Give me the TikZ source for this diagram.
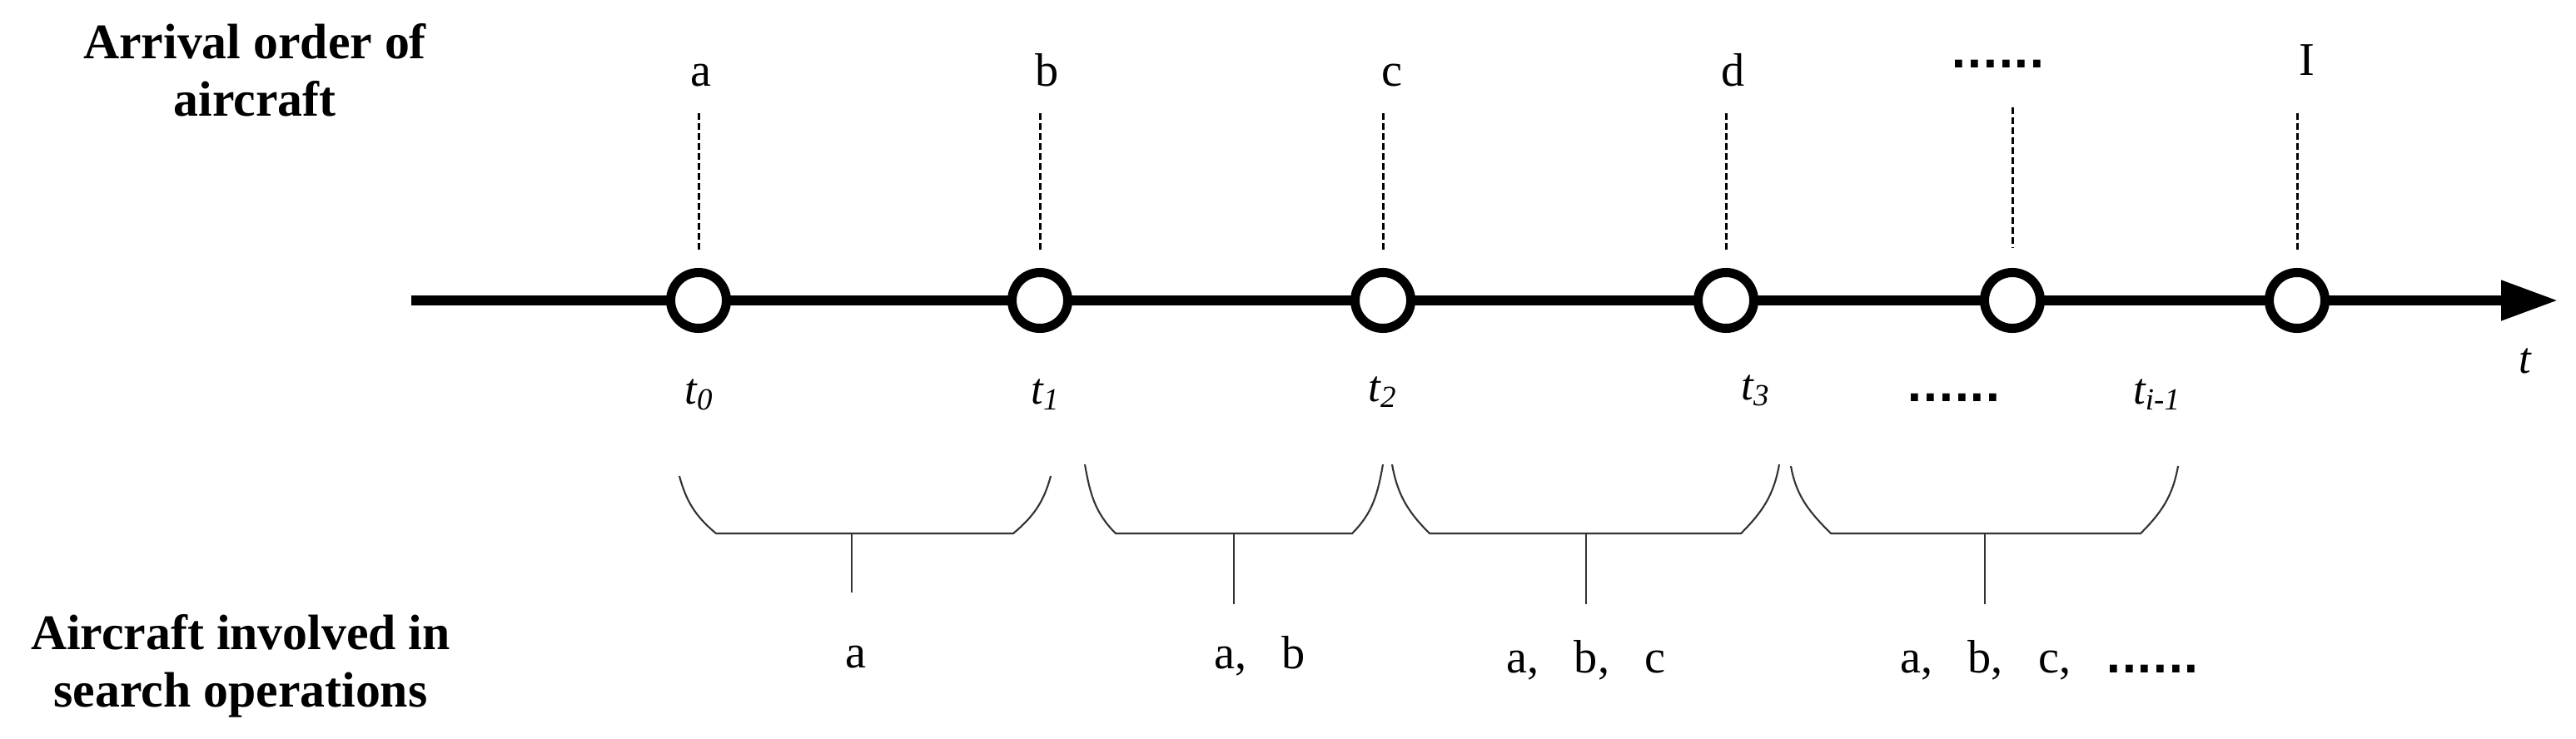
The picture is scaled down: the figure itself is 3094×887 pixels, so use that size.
\documentclass[tikz,border=0pt]{standalone}
\usepackage{fontspec}
\setmainfont{Liberation Serif}
\newfontfamily\dotsfont{DejaVu Sans}
\usetikzlibrary{arrows.meta,positioning}

\newcommand{\acsep}{,\hspace{0.75em}}
\newcommand{\acdots}{{\dotsfont\upshape\bfseries\fontsize{14}{17}\selectfont......}}

\tikzset{%
  % Specifications for style of nodes:
         ring/.style = {circle, draw=black, fill=white, line width=3.13pt, minimum size=0.67cm, inner sep=0pt},
       letter/.style = {inner sep=0pt, anchor=base, font=\fontsize{16}{19}\selectfont},
        stamp/.style = {inner sep=0pt, anchor=base, font=\fontsize{15}{18}\selectfont\itshape},
      heading/.style = {inner sep=0pt, align=center, font=\fontsize{17}{19.6}\selectfont\bfseries},
  % Specifications for style of lines:
         axis/.style = {line width=3.13pt, -{Triangle[length=0.68cm, width=0.46cm]}},
     dashline/.style = {line width=0.85pt, dash pattern=on 0.08cm off 0.04cm, shorten <=0.32cm, shorten >=0.19cm},
     spanline/.style = {line width=0.6pt, draw=black!80},
}

\begin{document}
\begin{tikzpicture}[x=0.01cm, y=0.01cm]
    \useasboundingbox (0,0) rectangle (3094,887);

    % Draw time axis
    \coordinate (tstart) at (494,526);
    \coordinate (tend)   at (3072,526);
    \draw[axis] (tstart) -- (tend);

    % Draw nodes
    \node (ca) [ring] at (839,526)  {};
    \node (cb) [ring] at (1249,526) {};
    \node (cc) [ring] at (1661,526) {};
    \node (cd) [ring] at (2073,526) {};
    \node (ce) [ring] at (2417,526) {};
    \node (cf) [ring] at (2759,526) {};

    \node (la) [letter] at (842,784)  {a};
    \node (lb) [letter] at (1258,784) {b};
    \node (lc) [letter] at (1672,784) {c};
    \node (ld) [letter] at (2082,784) {d};
    \node (le) [letter] at (2400,805) {\acdots};
    \node (lf) [letter] at (2771,796) {I};

    \node (t0)   [stamp] at (840,402)  {t\textsubscript{0}};
    \node (t1)   [stamp] at (1256,402) {t\textsubscript{1}};
    \node (t2)   [stamp] at (1661,405) {t\textsubscript{2}};
    \node (t3)   [stamp] at (2109,407) {t\textsubscript{3}};
    \node (tdot) [stamp] at (2347,405) {\acdots};
    \node (ti)   [stamp] at (2591,402) {t\textsubscript{i-1}};
    \node (tlab) [stamp] at (3033,439) {t};

    \node (arr) [heading, anchor=north] at (306,859) {Arrival order of\\aircraft};
    \node (inv) [heading, anchor=north] at (289,149) {Aircraft involved in\\search operations};

    \node (sa) [letter] at (1028,85) {a};
    \node (sb) [letter] at (1513,84) {a\acsep b};
    \node (sc) [letter] at (1905,79) {a\acsep b\acsep c};
    \node (sd) [letter] at (2462,79) {a\acsep b\acsep c\acsep\acdots};

    % Draw dashed lines
    \draw[dashline] (ca.north |- la.south) -- (ca.north);
    \draw[dashline] (cb.north |- lb.south) -- (cb.north);
    \draw[dashline] (cc.north |- lc.south) -- (cc.north);
    \draw[dashline] (cd.north |- ld.south) -- (cd.north);
    \draw[dashline, shorten <=0.46cm, shorten >=0.24cm] (ce.north |- le.south) -- (ce.north);
    \draw[dashline, shorten <=0.44cm] (cf.north |- lf.south) -- (cf.north);

    % Draw brackets
    \draw[spanline] (816,315) to[out=-75, in=140] (860,246) -- (1217,246) to[out=40, in=-105] (1262,315);
    \draw[spanline] (1023,246) -- (1023,175);
    \draw[spanline] (1303,329) to[out=-80, in=135] (1340,246) -- (1624,246) to[out=45, in=-100] (1661,329);
    \draw[spanline] (1482,246) -- (1482,161);
    \draw[spanline] (1672,329) to[out=-80, in=135] (1717,246) -- (2091,246) to[out=45, in=-100] (2137,329);
    \draw[spanline] (1905,246) -- (1905,161);
    \draw[spanline] (2151,327) to[out=-80, in=135] (2199,246) -- (2571,246) to[out=45, in=-100] (2616,327);
    \draw[spanline] (2384,246) -- (2384,161);

\end{tikzpicture}
\end{document}
